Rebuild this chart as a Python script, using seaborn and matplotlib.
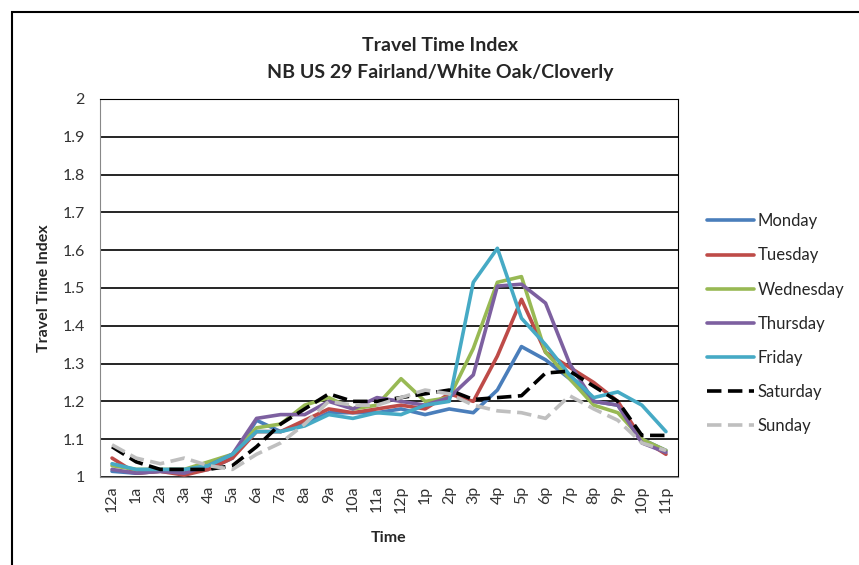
import numpy as np
import pandas as pd
import matplotlib
matplotlib.use("Agg")
import matplotlib.pyplot as plt
from matplotlib.patches import Rectangle
import seaborn as sns

sns.set_style("white")
plt.rcParams['font.family'] = ['Lato', 'DejaVu Sans']

hours = ['12a', '1a', '2a', '3a', '4a', '5a', '6a', '7a', '8a', '9a', '10a', '11a',
         '12p', '1p', '2p', '3p', '4p', '5p', '6p', '7p', '8p', '9p', '10p', '11p']

monday = [1.015, 1.01, 1.015, 1.01, 1.02, 1.05, 1.15, 1.12, 1.14, 1.17, 1.17, 1.17,
          1.18, 1.165, 1.18, 1.17, 1.23, 1.345, 1.31, 1.26, 1.20, 1.19, 1.10, 1.07]
tuesday = [1.05, 1.01, 1.015, 1.005, 1.02, 1.05, 1.12, 1.12, 1.15, 1.18, 1.17, 1.18,
           1.19, 1.18, 1.22, 1.20, 1.32, 1.47, 1.33, 1.29, 1.25, 1.20, 1.10, 1.06]
wednesday = [1.03, 1.02, 1.02, 1.02, 1.04, 1.06, 1.13, 1.14, 1.19, 1.21, 1.18, 1.19,
             1.26, 1.20, 1.21, 1.34, 1.515, 1.53, 1.33, 1.26, 1.19, 1.17, 1.10, 1.07]
thursday = [1.02, 1.01, 1.015, 1.01, 1.03, 1.06, 1.155, 1.165, 1.165, 1.20, 1.18, 1.21,
            1.20, 1.19, 1.21, 1.27, 1.505, 1.51, 1.46, 1.30, 1.20, 1.19, 1.09, 1.065]
friday = [1.035, 1.02, 1.02, 1.02, 1.03, 1.06, 1.12, 1.12, 1.135, 1.165, 1.155, 1.17,
          1.165, 1.19, 1.20, 1.515, 1.605, 1.42, 1.35, 1.27, 1.21, 1.225, 1.19, 1.12]
saturday = [1.08, 1.04, 1.02, 1.02, 1.02, 1.03, 1.08, 1.14, 1.18, 1.22, 1.20, 1.20,
            1.21, 1.22, 1.23, 1.205, 1.21, 1.215, 1.275, 1.28, 1.24, 1.20, 1.11, 1.11]
sunday = [1.085, 1.05, 1.035, 1.05, 1.03, 1.02, 1.06, 1.09, 1.14, 1.20, 1.19, 1.19,
          1.21, 1.23, 1.22, 1.19, 1.175, 1.17, 1.155, 1.215, 1.18, 1.15, 1.09, 1.07]

days = ['Monday', 'Tuesday', 'Wednesday', 'Thursday', 'Friday', 'Saturday', 'Sunday']
series = [monday, tuesday, wednesday, thursday, friday, saturday, sunday]
colors = ['#4A7EBB', '#BE4B48', '#98B954', '#7D60A0', '#46AAC5', '#000000', '#BFBFBF']

df = pd.DataFrame({
    'hour': np.tile(np.arange(len(hours)), len(days)),
    'tti': np.concatenate(series),
    'day': np.repeat(days, len(hours)),
})

fig = plt.figure(figsize=(8.59, 5.65), dpi=100)
ax = fig.add_axes([0.1164, 0.1558, 0.6729, 0.669])

dash_map = {d: '' for d in days}
dash_map['Saturday'] = (4, 1.8)
dash_map['Sunday'] = (4, 1.8)

sns.lineplot(data=df, x='hour', y='tti', hue='day', style='day',
             palette=dict(zip(days, colors)), dashes=dash_map,
             linewidth=2.6, ax=ax, legend=True)

ax.set_xlim(-0.5, len(hours) - 0.5)
ax.set_ylim(1, 2)
ax.set_yticks(np.round(np.arange(1, 2.01, 0.1), 1))
ax.set_yticklabels(['1', '1.1', '1.2', '1.3', '1.4', '1.5', '1.6', '1.7', '1.8', '1.9', '2'])
ax.set_xticks(range(len(hours)))
ax.set_xticklabels(hours, rotation=90)
ax.tick_params(axis='both', labelsize=11.5, colors='#333333', length=0)
ax.tick_params(axis='x', pad=6)
ax.tick_params(axis='y', length=5, color='#888888', direction='out', pad=6)
ax.grid(axis='y', color='black', linewidth=1.2)
ax.set_axisbelow(True)
for s in ['left', 'bottom']:
    ax.spines[s].set_color('#888888')
ax.spines['right'].set_color('black')
ax.spines['top'].set_color('black')

ax.set_xlabel('Time', fontsize=11.5, fontweight='bold', labelpad=13)
ax.set_ylabel('Travel Time Index', fontsize=11.5, fontweight='bold', labelpad=8)

fig.text(0.512, 0.92, 'Travel Time Index', ha='center', va='center',
         fontsize=14, fontweight='bold')
fig.text(0.512, 0.872, 'NB US 29 Fairland/White Oak/Cloverly', ha='center', va='center',
         fontsize=14, fontweight='bold')

handles, labels = ax.get_legend_handles_labels()
ax.get_legend().remove()
fig.legend(handles, labels, loc='center left', bbox_to_anchor=(0.806, 0.427),
           frameon=False, fontsize=12, handlelength=2.8, handletextpad=0.2,
           labelspacing=1.09)

fig.patches.append(Rectangle((12 / 859, -0.1), 2.0, 1.1 - 12 / 565,
                             transform=fig.transFigure, fill=False,
                             edgecolor='black', linewidth=1.5))

fig.savefig('out.png', dpi=100)
